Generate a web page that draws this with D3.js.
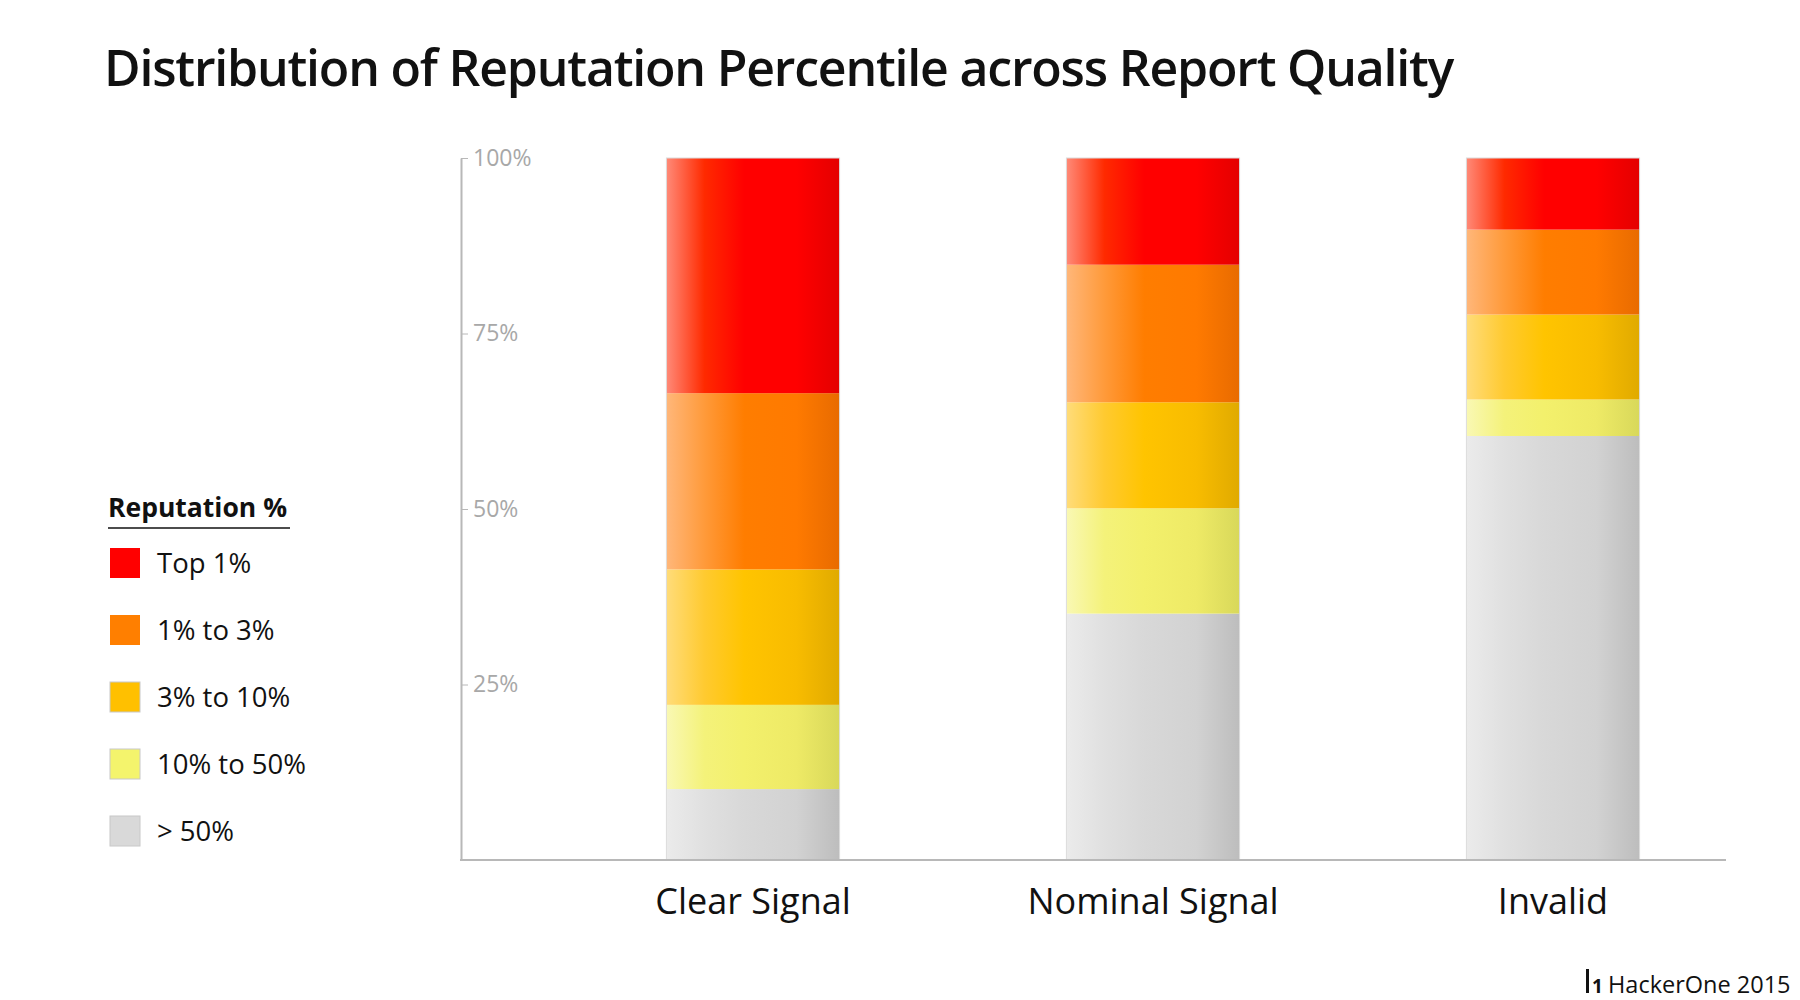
<!DOCTYPE html>
<html>
<head>
<meta charset="utf-8">
<script src="https://cdn.jsdelivr.net/npm/d3@7"></script>
<style>
  body { margin: 0; background: #fff; }
  svg { font-family: "Open Sans", "Noto Sans", sans-serif; }
</style>
</head>
<body>
<script>
// report quality buckets along the x axis
var categories = ["Clear Signal", "Nominal Signal", "Invalid"];

// reputation buckets, bottom of the stack first
var seriesNames = ["> 50%", "10% to 50%", "3% to 10%", "1% to 3%", "Top 1%"];

// share of reports (%) per bucket, one value per category
var over50 = [10.1, 35.1, 60.4];
var tenTo50 = [12.0, 15.0, 5.2];
var threeTo10 = [19.3, 15.1, 12.1];
var oneTo3 = [25.1, 19.6, 12.1];
var top1 = [33.5, 15.2, 10.2];

var yTicks = [0, 25, 50, 75, 100];
var yTickLabels = ["", "25%", "50%", "75%", "100%"];

// gradient stops: light left edge, main colour, darker right edge
var swatch = {
  "Top 1%":     { main: "#ff0000", stops: ["#ff8a78", "#ff2a00", "#ff0000", "#ff0000", "#e40000"] },
  "1% to 3%":   { main: "#ff7f00", stops: ["#ffb77a", "#ff9a3a", "#ff7d00", "#ff7a00", "#e86b00"] },
  "3% to 10%":  { main: "#ffc000", stops: ["#ffdc7a", "#ffca30", "#ffc400", "#f8bc00", "#e0aa00"] },
  "10% to 50%": { main: "#f4f46c", stops: ["#f9f8b4", "#f4f27a", "#f3f06c", "#eeea66", "#d8d85a"] },
  "> 50%":      { main: "#d9d9d9", stops: ["#ebebeb", "#e0e0e0", "#d8d8d8", "#d2d2d2", "#bdbdbd"] }
};
var stopOffsets = ["0%", "22%", "45%", "75%", "100%"];

var width = 1800, height = 1000;

var svg = d3.select("body").append("svg")
  .attr("width", width)
  .attr("height", height);

var table = categories.map(function(c, i) {
  return {
    cat: c,
    "> 50%": over50[i],
    "10% to 50%": tenTo50[i],
    "3% to 10%": threeTo10[i],
    "1% to 3%": oneTo3[i],
    "Top 1%": top1[i]
  };
});

var stacked = d3.stack().keys(seriesNames)(table);

var x = d3.scaleBand()
  .domain(categories)
  .range([553, 1753])
  .paddingInner(0.567)
  .paddingOuter(0.2835);

var y = d3.scaleLinear()
  .domain([0, 100])
  .range([860, 158]);

// gradients
var defs = svg.append("defs");
seriesNames.forEach(function(name, k) {
  var g = defs.append("linearGradient")
    .attr("id", "grad" + k)
    .attr("x1", "0%").attr("x2", "100%")
    .attr("y1", "0%").attr("y2", "0%");
  swatch[name].stops.forEach(function(c, j) {
    g.append("stop").attr("offset", stopOffsets[j]).attr("stop-color", c);
  });
});

// title
svg.append("text")
  .attr("x", 104)
  .attr("y", 86)
  .attr("font-size", 50)
  .attr("font-weight", 600)
  .attr("letter-spacing", -1.2)
  .attr("fill", "#111")
  .text("Distribution of Reputation Percentile across Report Quality");

// bars
var layers = svg.selectAll("g.layer")
  .data(stacked)
  .enter().append("g")
  .attr("class", "layer")
  .attr("fill", function(d, k) { return "url(#grad" + k + ")"; });

layers.selectAll("rect")
  .data(function(d) { return d; })
  .enter().append("rect")
  .attr("x", function(d) { return x(d.data.cat); })
  .attr("width", x.bandwidth())
  .attr("y", function(d) { return y(d[1]); })
  .attr("height", function(d) { return y(d[0]) - y(d[1]); });

// thin outline round each bar
svg.selectAll("rect.outline")
  .data(categories)
  .enter().append("rect")
  .attr("class", "outline")
  .attr("x", function(d) { return x(d); })
  .attr("width", x.bandwidth())
  .attr("y", y(100))
  .attr("height", y(0) - y(100))
  .attr("fill", "none")
  .attr("stroke", "#dcdcdc")
  .attr("stroke-width", 1);

// y axis
var yAxis = d3.axisRight(y)
  .tickValues(yTicks)
  .tickSize(7)
  .tickSizeOuter(0)
  .tickPadding(5)
  .tickFormat(function(d, i) { return yTickLabels[i]; });

var ya = svg.append("g")
  .attr("transform", "translate(461,0)")
  .call(yAxis);
ya.select(".domain").attr("stroke", "#b8b8b8").attr("stroke-width", 2);
ya.selectAll(".tick line").attr("stroke", "#b8b8b8").attr("stroke-width", 1);
ya.selectAll(".tick text")
  .attr("fill", "#a8a8a8")
  .attr("font-size", 23)
  .attr("font-family", "'Open Sans', sans-serif");

// baseline
svg.append("line")
  .attr("x1", 460).attr("x2", 1726)
  .attr("y1", y(0)).attr("y2", y(0))
  .attr("stroke", "#b8b8b8")
  .attr("stroke-width", 2);

// category labels
svg.selectAll("text.cat")
  .data(categories)
  .enter().append("text")
  .attr("class", "cat")
  .attr("x", function(d) { return x(d) + x.bandwidth() / 2; })
  .attr("y", 914)
  .attr("text-anchor", "middle")
  .attr("font-size", 36)
  .attr("fill", "#111")
  .text(function(d) { return d; });

// legend
var legend = svg.append("g");
legend.append("text")
  .attr("x", 108)
  .attr("y", 517)
  .attr("font-size", 26.5)
  .attr("font-weight", 700)
  .attr("fill", "#111")
  .text("Reputation %");
legend.append("line")
  .attr("x1", 108).attr("x2", 290)
  .attr("y1", 528).attr("y2", 528)
  .attr("stroke", "#111")
  .attr("stroke-width", 1.5);

var legendOrder = seriesNames.slice().reverse();
var items = legend.selectAll("g.item")
  .data(legendOrder)
  .enter().append("g")
  .attr("class", "item")
  .attr("transform", function(d, i) { return "translate(110," + (548 + i * 67) + ")"; });

items.append("rect")
  .attr("width", 30)
  .attr("height", 30)
  .attr("fill", function(d) { return swatch[d].main; })
  .attr("stroke", function(d, i) { return i >= 2 ? "#c8c8c8" : "none"; })
  .attr("stroke-width", 1);

items.append("text")
  .attr("x", 47)
  .attr("y", 25)
  .attr("font-size", 27.5)
  .attr("fill", "#111")
  .text(function(d) { return d; });

// footer logo + credit
var foot = svg.append("g");
foot.append("rect")
  .attr("x", 1586).attr("y", 969)
  .attr("width", 3).attr("height", 24)
  .attr("fill", "#111");
foot.append("text")
  .attr("x", 1592).attr("y", 993)
  .attr("font-size", 19)
  .attr("font-weight", 700)
  .attr("fill", "#111")
  .text("1");
foot.append("text")
  .attr("x", 1608).attr("y", 993)
  .attr("font-size", 23.5)
  .attr("fill", "#111")
  .text("HackerOne 2015");
</script>
</body>
</html>
